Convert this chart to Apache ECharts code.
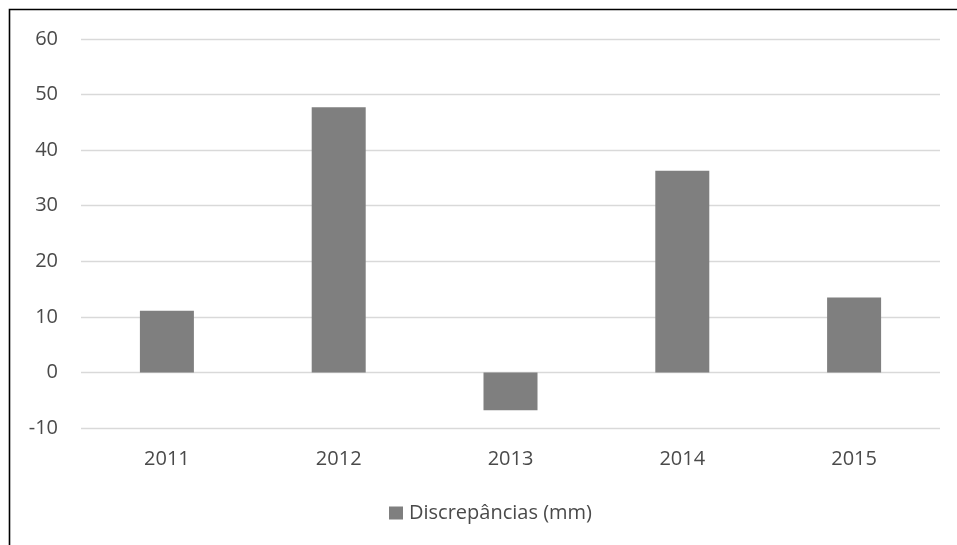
<!DOCTYPE html>
<html>
<head>
<meta charset="utf-8">
<script src="https://cdn.jsdelivr.net/npm/echarts@6/dist/echarts.min.js"></script>
<style>
  html, body { margin: 0; padding: 0; background: #fff; }
  #chart { width: 957px; height: 545px; }
</style>
</head>
<body>
<div id="chart"></div>
<script>
// Annual discrepancies in millimetres
const years = ['2011', '2012', '2013', '2014', '2015'];
const discrepancias = [11.1, 47.7, -6.8, 36.3, 13.5];
const seriesName = 'Discrepâncias (mm)';
const yTicks = { min: -10, max: 60, interval: 10 };

const chart = echarts.init(document.getElementById('chart'), null, { renderer: 'canvas' });
const labelFont = '"Open Sans", "Noto Sans", sans-serif';
const labelColor = '#4a4a4a';

chart.setOption({
  backgroundColor: '#ffffff',
  animation: false,
  textStyle: { fontFamily: labelFont },
  graphic: [{
    type: 'polyline',
    silent: true,
    shape: { points: [[9.5, 545], [9.5, 9.5], [957, 9.5]] },
    style: { stroke: '#000000', lineWidth: 1.6, fill: null }
  }],
  grid: { left: 81, right: 17, top: 39, bottom: 117, containLabel: false },
  legend: {
    data: [seriesName],
    left: 389,
    top: 503,
    padding: 0,
    icon: 'rect',
    itemWidth: 14,
    itemHeight: 13,
    itemGap: 6,
    textStyle: { color: labelColor, fontSize: 20, fontFamily: labelFont, padding: [0, 0, 0, 1] }
  },
  xAxis: {
    type: 'category',
    data: years,
    axisLine: { show: false },
    axisTick: { show: false },
    axisLabel: { color: labelColor, fontSize: 20, margin: 21, fontFamily: labelFont }
  },
  yAxis: {
    type: 'value',
    min: yTicks.min,
    max: yTicks.max,
    interval: yTicks.interval,
    axisLine: { show: false },
    axisTick: { show: false },
    axisLabel: { color: labelColor, fontSize: 20, margin: 23, fontFamily: labelFont },
    splitLine: { lineStyle: { color: '#d9d9d9', width: 1.3 } }
  },
  series: [{
    name: seriesName,
    type: 'bar',
    data: discrepancias,
    barWidth: 54,
    itemStyle: { color: '#7f7f7f' }
  }]
});
</script>
</body>
</html>
